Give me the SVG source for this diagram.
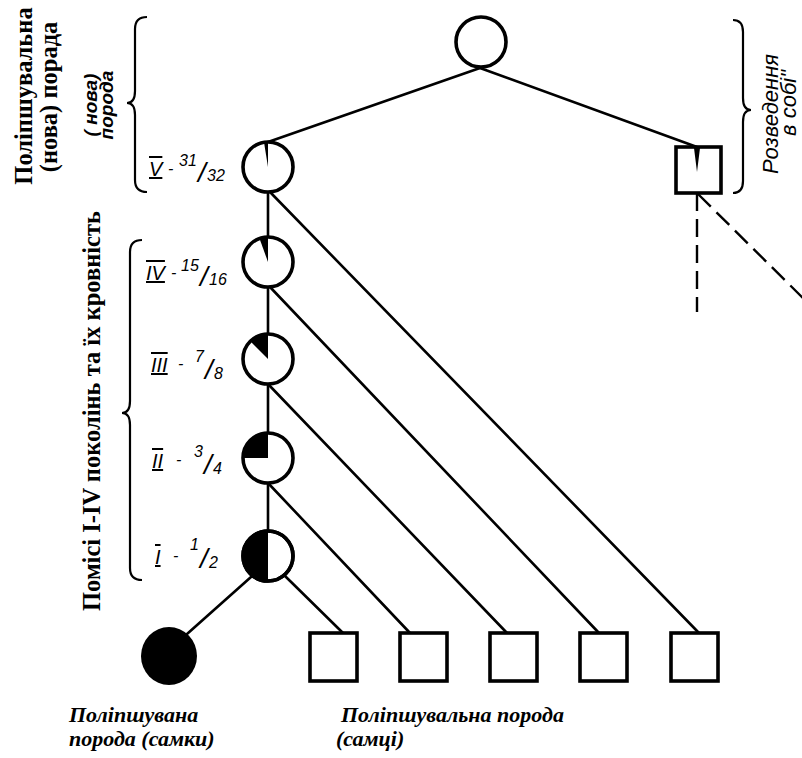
<svg xmlns="http://www.w3.org/2000/svg" width="802" height="758" viewBox="0 0 802 758">
<style>
.ln{stroke:#000;stroke-width:2.6;fill:none;stroke-linecap:round}
.dl{stroke:#000;stroke-width:2.4;fill:none;stroke-dasharray:18 8}
.nd{stroke:#000;stroke-width:3.6;fill:#fff}
.wd{fill:#000;stroke:none}
.br{stroke:#000;stroke-width:2.2;fill:none}
.hb{font-family:"Liberation Serif","Times New Roman",serif;font-weight:bold;font-size:24.5px;text-anchor:middle}
.bt{font-family:"Liberation Serif","Times New Roman",serif;font-weight:bold;font-style:italic;font-size:22px}
.gl{font-family:"Liberation Sans",Arial,sans-serif;font-style:italic;font-size:16px}
.rn{font-size:20px;text-decoration:underline overline}
.sl{font-size:28px}
.rt{font-family:"Liberation Sans",Arial,sans-serif;font-style:italic;font-size:22px;text-anchor:middle}
.pr{font-family:"Liberation Sans",Arial,sans-serif;font-style:italic;font-weight:bold;font-size:19px;text-anchor:middle}
</style>
<rect width="802" height="758" fill="#fff"/>

<g id="connectors">
  <line class="ln" x1="480" y1="68" x2="268" y2="142"/>
  <line class="ln" x1="480" y1="68" x2="697" y2="147"/>
  <line class="ln" x1="268" y1="192" x2="268" y2="237"/>
  <line class="ln" x1="268" y1="287" x2="268" y2="334"/>
  <line class="ln" x1="268" y1="384" x2="268" y2="433"/>
  <line class="ln" x1="268" y1="483" x2="268" y2="531"/>
  <line class="ln" x1="270" y1="192" x2="699" y2="633"/>
  <line class="ln" x1="270" y1="287" x2="599" y2="633"/>
  <line class="ln" x1="268" y1="384" x2="507" y2="633"/>
  <line class="ln" x1="268" y1="483" x2="410" y2="633"/>
  <line class="ln" x1="285" y1="576" x2="343" y2="633"/>
  <line class="ln" x1="251" y1="577" x2="187" y2="634"/>
  <line class="dl" x1="697" y1="193" x2="697" y2="312"/>
  <line class="dl" x1="698" y1="194" x2="812" y2="307"/>
</g>

<g id="top-node"><circle class="nd" cx="481" cy="42" r="25"/></g>

<g id="gen5">
  <circle class="nd" cx="268" cy="167" r="25"/>
  <path class="wd" d="M268,167 L268,142 A25,25 0 0 0 264,142.3 Z"/>
</g>
<g id="gen4">
  <circle class="nd" cx="268" cy="262" r="25"/>
  <path class="wd" d="M268,262 L268,237 A25,25 0 0 0 259.5,238.5 Z"/>
</g>
<g id="gen3">
  <circle class="nd" cx="268" cy="359" r="25"/>
  <path class="wd" d="M268,359 L268,334 A25,25 0 0 0 250.3,341.3 Z"/>
</g>
<g id="gen2">
  <circle class="nd" cx="268" cy="458" r="25"/>
  <path class="wd" d="M268,458 L268,433 A25,25 0 0 0 243,458 Z"/>
</g>
<g id="gen1">
  <circle class="nd" cx="268" cy="556" r="25"/>
  <path class="wd" d="M268,556 L268,531 A25,25 0 0 0 268,581 Z"/>
  <circle cx="268" cy="556" r="25" fill="none" stroke="#000" stroke-width="3.6"/>
</g>

<g id="self-breeding-male">
  <rect class="nd" x="676" y="147" width="45" height="46"/>
  <path class="wd" d="M694,148 L700,148 L697,172 Z"/>
</g>

<g id="female"><ellipse cx="169" cy="656" rx="28" ry="29" fill="#000"/></g>
<g id="male1"><rect class="nd" x="310" y="633" width="47" height="48"/></g>
<g id="male2"><rect class="nd" x="400" y="633" width="47" height="48"/></g>
<g id="male3"><rect class="nd" x="490" y="633" width="47" height="48"/></g>
<g id="male4"><rect class="nd" x="580" y="633" width="47" height="48"/></g>
<g id="male5"><rect class="nd" x="671" y="633" width="47" height="48"/></g>

<g id="braces">
  <path class="br" d="M147,17 Q135,17 135,29 L135,91 Q135,103 127,103 Q135,103 135,115 L135,180 Q135,192 147,192"/>
  <path class="br" d="M142,240 Q130,240 130,252 L130,401 Q130,413 122,413 Q130,413 130,425 L130,568 Q130,580 142,580"/>
  <path class="br" d="M733,20 Q743,20 743,32 L743,98 Q743,110 751,110 Q743,110 743,122 L743,181 Q743,193 733,193"/>
</g>

<g id="gen-labels">
  <text class="gl"><tspan class="rn" x="149" y="176">V</tspan><tspan x="168" y="174">-</tspan><tspan x="179" y="166">31</tspan><tspan class="sl" x="198" y="182">/</tspan><tspan x="207" y="181">32</tspan></text>
  <text class="gl"><tspan class="rn" x="146" y="280">IV</tspan><tspan x="171" y="278">-</tspan><tspan x="181" y="271">15</tspan><tspan class="sl" x="200" y="286">/</tspan><tspan x="209" y="285">16</tspan></text>
  <text class="gl"><tspan class="rn" x="151" y="372">III</tspan><tspan x="178" y="369">-</tspan><tspan x="195" y="362">7</tspan><tspan class="sl" x="205" y="379">/</tspan><tspan x="214" y="379">8</tspan></text>
  <text class="gl"><tspan class="rn" x="152" y="468">II</tspan><tspan x="176" y="465">-</tspan><tspan x="194" y="457">3</tspan><tspan class="sl" x="204" y="474">/</tspan><tspan x="213" y="474">4</tspan></text>
  <text class="gl"><tspan class="rn" x="155" y="564">I</tspan><tspan x="173" y="561">-</tspan><tspan x="190" y="550">1</tspan><tspan class="sl" x="200" y="568">/</tspan><tspan x="209" y="568">2</tspan></text>
</g>

<g id="side-labels">
  <text class="hb" transform="translate(32,96) rotate(-90)">Поліпшувальна</text>
  <text class="hb" transform="translate(57,97) rotate(-90)">(нова) порада</text>
  <text class="hb" transform="translate(100,411) rotate(-90)">Помісі І-ІV поколінь та їх кровність</text>
  <text class="pr" transform="translate(97,105) rotate(-90)">( нова)</text>
  <text class="pr" transform="translate(113,105) rotate(-90)">порода</text>
  <text class="rt" transform="translate(778,114) rotate(-90)">Розведення</text>
  <text class="rt" transform="translate(796,103) rotate(-90)">в собі"</text>
</g>

<g id="bottom-labels">
  <text class="bt" x="69" y="722">Поліпшувана</text>
  <text class="bt" x="69" y="746">порода (самки)</text>
  <text class="bt" x="341" y="722">Поліпшувальна порода</text>
  <text class="bt" x="336" y="746">(самці)</text>
</g>
</svg>
